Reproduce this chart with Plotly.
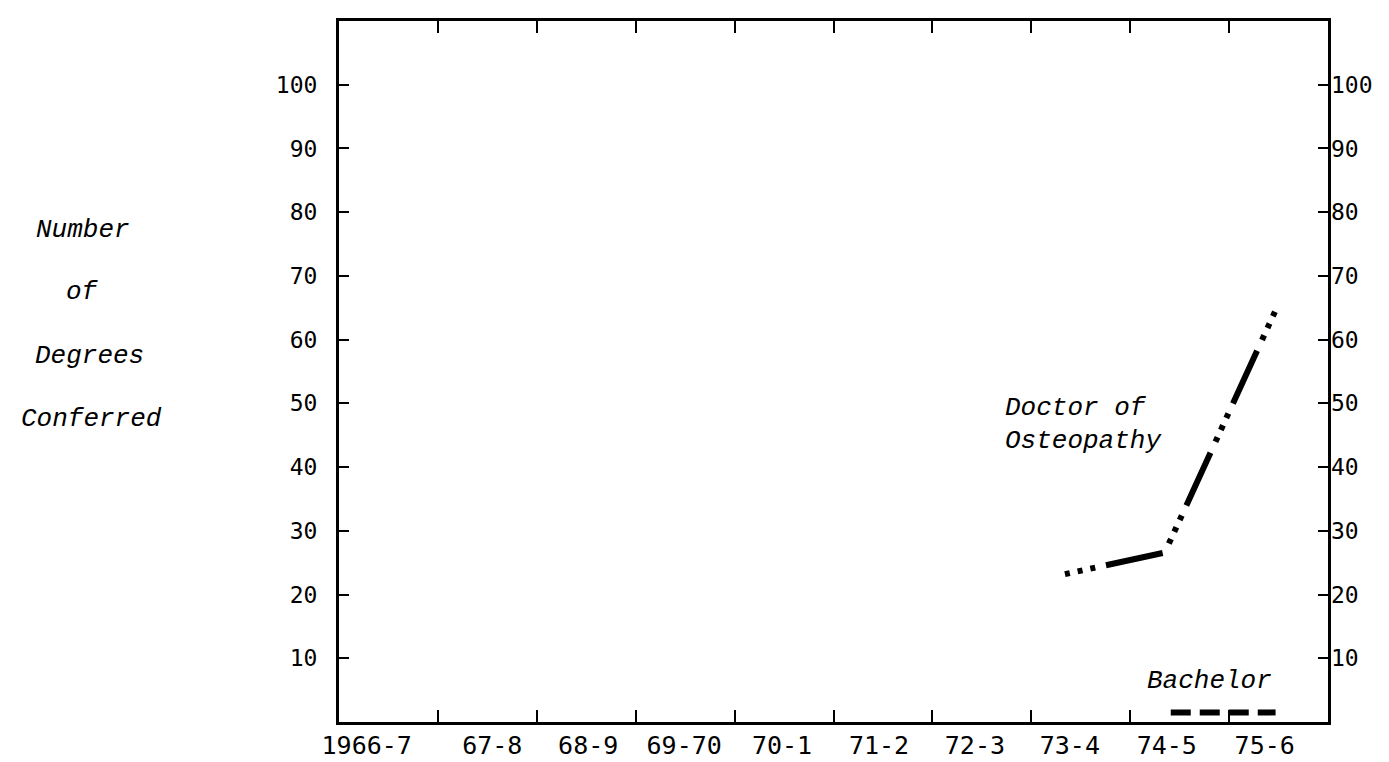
import plotly.graph_objects as go

# ---- data ----
year_labels = ["1966-7", "67-8", "68-9", "69-70", "70-1", "71-2", "72-3", "73-4", "74-5", "75-6"]
y_tick_values = [10, 20, 30, 40, 50, 60, 70, 80, 90, 100]

doctor_x = [7.34, 8.35, 9.47]      # position along the academic-year axis
doctor_y = [23.2, 26.6, 64.6]      # Doctor of Osteopathy degrees

bachelor_x = [8.41, 9.47]
bachelor_y = [1.5, 1.5]            # Bachelor degrees

# ---- layout helpers ----
n_years = len(year_labels)
boundaries = list(range(1, n_years))
label_x = [0.28, 1.55, 2.52, 3.49, 4.48, 5.46, 6.43, 7.39, 8.37, 9.36]

TICK_FONT = dict(family="DejaVu Sans Mono", size=23, color="black")
XLAB_FONT = dict(family="DejaVu Sans Mono", size=25, color="black")
ITAL_FONT = dict(family="Liberation Mono", size=26, color="black", style="italic")

fig = go.Figure()

fig.add_trace(go.Scatter(
    x=doctor_x, y=doctor_y, mode="lines",
    line=dict(color="black", width=6,
              dash="5px,8px,5px,8px,5px,11px,58px,12px"),
    showlegend=False, hoverinfo="skip"))

fig.add_trace(go.Scatter(
    x=bachelor_x, y=bachelor_y, mode="lines",
    line=dict(color="black", width=6, dash="20px,9px"),
    showlegend=False, hoverinfo="skip"))

# dummy trace so the label-only axes are drawn
fig.add_trace(go.Scatter(x=[None], y=[None], xaxis="x2", yaxis="y2",
                         showlegend=False, hoverinfo="skip"))

fig.update_layout(
    width=1389, height=762,
    margin=dict(l=331, r=69, t=10, b=41),
    paper_bgcolor="white", plot_bgcolor="white",
    xaxis=dict(range=[0, n_years], tickvals=boundaries, showticklabels=False,
               ticks="inside", ticklen=12, tickwidth=2, tickcolor="black",
               showline=True, linecolor="black", linewidth=3, mirror="ticks",
               showgrid=False, zeroline=False, fixedrange=True),
    xaxis2=dict(range=[0, n_years], overlaying="x", anchor="y2", side="bottom",
                tickvals=label_x, ticktext=year_labels, ticks="",
                tickfont=XLAB_FONT, ticklabelstandoff=6,
                showline=False, showgrid=False, zeroline=False),
    yaxis=dict(range=[0, 110], tickvals=y_tick_values, showticklabels=True,
               ticks="inside", ticklen=10, tickwidth=2, tickcolor="black",
               tickfont=TICK_FONT, ticklabelstandoff=14,
               showline=True, linecolor="black", linewidth=3, mirror="ticks",
               showgrid=False, zeroline=False),
    yaxis2=dict(range=[0, 110], overlaying="y", anchor="x", side="right",
                tickvals=y_tick_values, ticks="", tickfont=TICK_FONT,
                ticklabelstandoff=2,
                showline=False, showgrid=False, zeroline=False),
)

annotations = [
    dict(text="Doctor of", x=6.71, y=49.2, xanchor="left", yanchor="middle"),
    dict(text="Osteopathy", x=6.71, y=44.1, xanchor="left", yanchor="middle"),
    dict(text="Bachelor", x=8.8, y=6.5, xanchor="center", yanchor="middle"),
]
for a in annotations:
    fig.add_annotation(xref="x", yref="y", showarrow=False, font=ITAL_FONT, **a)

y_title = [("Number", -0.308, 77.2), ("of", -0.278, 67.4),
           ("Degrees", -0.309, 57.5), ("Conferred", -0.324, 47.6)]
for txt, px, py in y_title:
    fig.add_annotation(text=txt, xref="paper", yref="y", x=px, y=py,
                       xanchor="left", yanchor="middle", showarrow=False,
                       font=ITAL_FONT)

fig.write_html("out.html")
